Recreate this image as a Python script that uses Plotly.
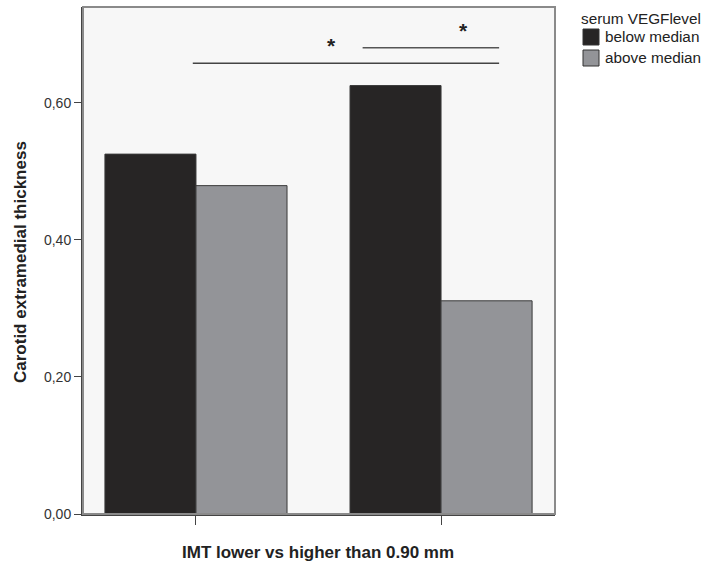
import plotly.graph_objects as go

categories = ["lower", "higher"]
below_median = [0.525, 0.625]
above_median = [0.479, 0.311]
series_names = ["below median", "above median"]
legend_title = "serum VEGFlevel"
y_ticks = [0.0, 0.2, 0.4, 0.6]

FONT = "Liberation Sans, Arial, sans-serif"
COLORS = ["#272525", "#939498"]

# plot-area geometry (pixels) used to convert to paper coords
L, R, T, B = 83, 555, 7, 514
PW, PH = R - L, B - T


def px_x(x):
    return (x - L) / PW


def px_y(y):
    return (B - y) / PH


fig = go.Figure()
for name, vals, col in zip(series_names, [below_median, above_median], COLORS):
    fig.add_trace(go.Bar(x=[0, 1], y=vals, name=name, showlegend=False,
                         marker=dict(color=col, line=dict(color="#3a3a3a", width=1))))

# significance lines
fig.add_shape(type="line", x0=-0.013, x1=1.237, y0=0.6575, y1=0.6575,
              line=dict(color="#444444", width=1.5))
fig.add_shape(type="line", x0=0.68, x1=1.237, y0=0.680, y1=0.680,
              line=dict(color="#555555", width=1.5))
fig.add_annotation(x=0.555, y=0.684, text="<b>*</b>", showarrow=False,
                   font=dict(size=21, color="#222222", family=FONT))
fig.add_annotation(x=1.09, y=0.706, text="<b>*</b>", showarrow=False,
                   font=dict(size=21, color="#222222", family=FONT))

# frame
fig.add_shape(type="rect", xref="paper", yref="paper", x0=0, x1=1, y0=0, y1=1,
              line=dict(color="#8a8a8a", width=2), layer="above")

# axis titles
fig.add_annotation(xref="paper", yref="paper", x=px_x(318), y=px_y(552),
                   text="<b>IMT lower vs higher than 0.90 mm</b>", showarrow=False,
                   xanchor="center", yanchor="middle",
                   font=dict(size=17, color="#222222", family=FONT))
fig.add_annotation(xref="paper", yref="paper", x=px_x(20), y=px_y(262),
                   text="<b>Carotid extramedial thickness</b>", showarrow=False, textangle=-90,
                   xanchor="center", yanchor="middle",
                   font=dict(size=17, color="#222222", family=FONT))

# legend (drawn manually so the swatches match the reference size)
fig.add_annotation(xref="paper", yref="paper", x=px_x(579), y=px_y(18),
                   text=legend_title, showarrow=False, xanchor="left", yanchor="middle",
                   font=dict(size=15.3, color="#222222", family=FONT))
for i, (name, col) in enumerate(zip(series_names, COLORS)):
    top = 29 + 21 * i
    fig.add_shape(type="rect", xref="paper", yref="paper",
                  x0=px_x(583), x1=px_x(599), y0=px_y(top + 16), y1=px_y(top),
                  fillcolor=col, line=dict(color="#333333", width=1))
    fig.add_annotation(xref="paper", yref="paper", x=px_x(603), y=px_y(top + 8),
                       text=name, showarrow=False, xanchor="left", yanchor="middle",
                       font=dict(size=15.3, color="#222222", family=FONT))

fig.update_layout(
    width=703, height=567,
    margin=dict(l=L, r=703 - R, t=T, b=567 - B),
    paper_bgcolor="white", plot_bgcolor="#f7f7f7",
    barmode="group", bargap=0.257, bargroupgap=0,
    separators=",.",
    font=dict(family=FONT, size=14, color="#333333"),
    showlegend=False,
    xaxis=dict(range=[-0.461, 1.465], tickvals=[0, 1], showticklabels=False,
               ticks="outside", ticklen=9, tickcolor="#444444", showgrid=False,
               showline=True, linecolor="#444444", linewidth=2, zeroline=False),
    yaxis=dict(range=[0, 0.7396], tickvals=y_ticks, tickformat=".2f",
               ticks="outside", ticklen=7, tickcolor="#444444", showgrid=False,
               showline=True, linecolor="#444444", linewidth=2, zeroline=False,
               tickfont=dict(size=14, color="#333333")),
)

fig.write_html("out.html", config={"displayModeBar": False},
               post_script="document.body.style.margin='0';")
